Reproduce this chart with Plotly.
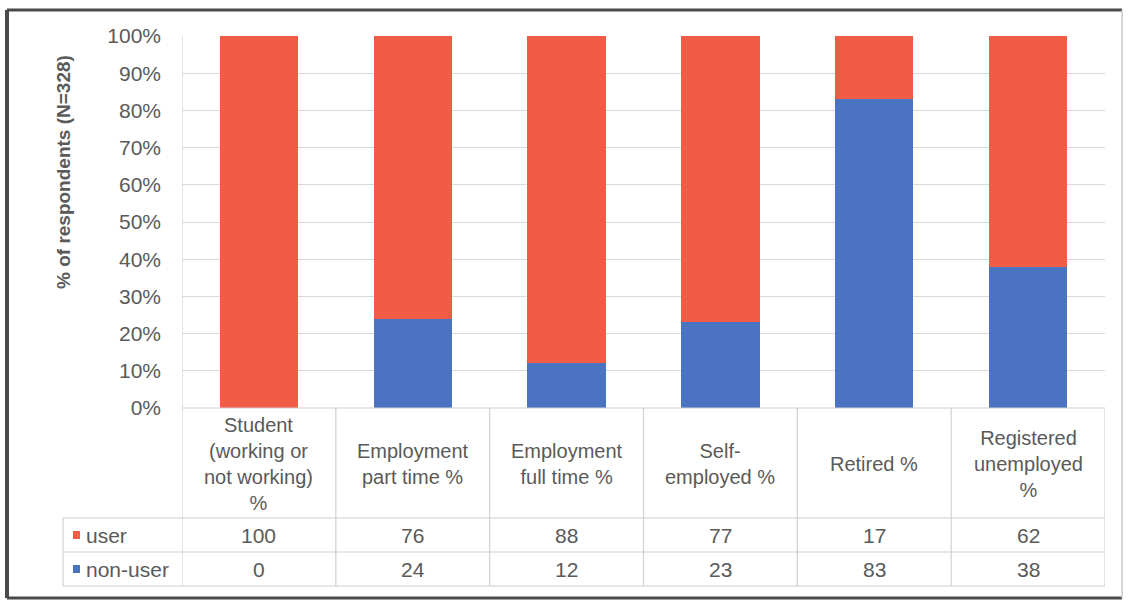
import plotly.graph_objects as go

# Employment status categories (header text of the data table)
categories = [
    "Student<br>(working or<br>not working)<br>%",
    "Employment<br>part time %",
    "Employment<br>full time %",
    "Self-<br>employed %",
    "Retired %",
    "Registered<br>unemployed<br>%",
]
user = [100, 76, 88, 77, 17, 62]
non_user = [0, 24, 12, 23, 83, 38]
y_ticks = [0, 10, 20, 30, 40, 50, 60, 70, 80, 90, 100]
y_tick_labels = ["0%", "10%", "20%", "30%", "40%", "50%", "60%", "70%", "80%", "90%", "100%"]

RED = "#F05C45"
BLUE = "#4A73C2"
TEXT = "#5A5A5A"
GRID = "#D9D9D9"
FONT = "Liberation Sans, Arial, sans-serif"

W, H = 1129, 603
# pixel geometry of the plot + table
PX_L, PX_R = 182, 1105
PY_TOP, PY_AXIS = 36, 408
PY_HDR, PY_ROW1, PY_ROW2 = 518, 552, 586
PX_LEG = 63


def py(v):
    return 1 - v / H


def px(v):
    return v / W


xs = list(range(len(categories)))

fig = go.Figure()
fig.add_bar(x=xs, y=non_user, name="non-user", marker=dict(color=BLUE, line=dict(width=0)))
fig.add_bar(x=xs, y=user, name="user", marker=dict(color=RED, line=dict(width=0)))

shapes = []
line = dict(color="#D0D0D0", width=1.2)
# table horizontal rules
for yy, x0 in [(PY_AXIS, PX_L), (PY_HDR, PX_LEG), (PY_ROW1, PX_LEG), (PY_ROW2, PX_LEG)]:
    shapes.append(dict(type="line", xref="paper", yref="paper",
                       x0=px(x0), x1=px(PX_R), y0=py(yy), y1=py(yy), line=line))
# table vertical rules at category boundaries
for i in range(len(categories) + 1):
    shapes.append(dict(type="line", xref="x", yref="paper",
                       x0=i - 0.5, x1=i - 0.5, y0=py(PY_ROW2), y1=py(PY_AXIS), line=line))
# plot area left edge
shapes.append(dict(type="line", xref="x", yref="paper", x0=-0.5, x1=-0.5,
                   y0=py(PY_AXIS), y1=py(PY_TOP), line=line))
shapes.append(dict(type="line", xref="paper", yref="paper", x0=px(PX_LEG), x1=px(PX_LEG),
                   y0=py(PY_ROW2), y1=py(PY_HDR), line=line))
# legend keys in the table
for yc, col in [((PY_HDR + PY_ROW1) / 2, RED), ((PY_ROW1 + PY_ROW2) / 2, BLUE)]:
    shapes.append(dict(type="rect", xref="paper", yref="paper",
                       x0=px(73), x1=px(80), y0=py(yc + 4), y1=py(yc - 4),
                       fillcolor=col, line=dict(width=0)))
# chart frame
shapes.append(dict(type="line", xref="paper", yref="paper", x0=px(7), x1=px(7),
                   y0=py(598), y1=py(10), line=dict(color="#4A4A4A", width=4)))
shapes.append(dict(type="line", xref="paper", yref="paper", x0=px(7), x1=px(1122),
                   y0=py(10), y1=py(10), line=dict(color="#4A4A4A", width=3)))
shapes.append(dict(type="line", xref="paper", yref="paper", x0=px(7), x1=px(1122),
                   y0=py(598), y1=py(598), line=dict(color="#4A4A4A", width=3)))
shapes.append(dict(type="line", xref="paper", yref="paper", x0=px(1122), x1=px(1122),
                   y0=py(598), y1=py(10), line=dict(color="#C8C8C8", width=1.5)))

annotations = []
tfont = dict(family=FONT, size=21, color=TEXT)
hfont = dict(family=FONT, size=20, color=TEXT)
for i, cat in enumerate(categories):
    annotations.append(dict(x=i, xref="x", y=py((PY_AXIS + PY_HDR) / 2 + 1), yref="paper",
                            text=cat, showarrow=False, font=hfont, align="center",
                            xanchor="center", yanchor="middle"))
    annotations.append(dict(x=i, xref="x", y=py((PY_HDR + PY_ROW1) / 2), yref="paper",
                            text=str(user[i]), showarrow=False, font=tfont,
                            xanchor="center", yanchor="middle"))
    annotations.append(dict(x=i, xref="x", y=py((PY_ROW1 + PY_ROW2) / 2), yref="paper",
                            text=str(non_user[i]), showarrow=False, font=tfont,
                            xanchor="center", yanchor="middle"))
for label, yc in [("user", (PY_HDR + PY_ROW1) / 2), ("non-user", (PY_ROW1 + PY_ROW2) / 2)]:
    annotations.append(dict(x=px(84), xref="paper", y=py(yc), yref="paper", text=label,
                            showarrow=False, font=tfont, xanchor="left", yanchor="middle"))
annotations.append(dict(x=px(63), xref="paper", y=py(172), yref="paper",
                        text="<b>% of respondents (N=328)</b>", textangle=-90,
                        showarrow=False, font=dict(family=FONT, size=19, color=TEXT),
                        xanchor="center", yanchor="middle"))

fig.update_layout(
    width=W, height=H,
    margin=dict(l=0, r=0, t=0, b=0, autoexpand=False),
    paper_bgcolor="white", plot_bgcolor="white",
    barmode="stack", bargap=0.49,
    showlegend=False,
    shapes=shapes, annotations=annotations,
    font=dict(family=FONT, color=TEXT),
    xaxis=dict(domain=[px(PX_L), px(PX_R)], range=[-0.5, len(categories) - 0.5],
               showticklabels=False, showgrid=False, zeroline=False, showline=False,
               fixedrange=True),
    yaxis=dict(domain=[py(PY_AXIS), py(PY_TOP)], range=[0, 100],
               tickvals=y_ticks, ticktext=y_tick_labels,
               tickfont=dict(family=FONT, size=21, color=TEXT),
               ticklabelstandoff=20,
               showgrid=True, gridcolor=GRID, gridwidth=1.2,
               zeroline=False, showline=False, ticks=""),
)

fig.write_html("out.html")
